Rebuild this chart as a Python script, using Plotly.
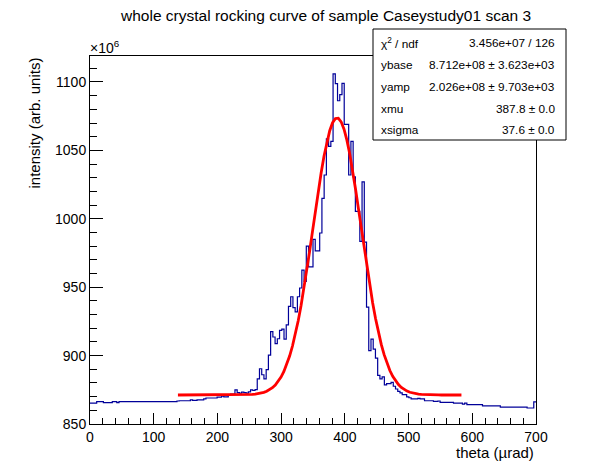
import numpy as np
import plotly.graph_objects as go

TITLE = "whole crystal rocking curve of sample Caseystudy01 scan 3"
X_TITLE = "theta (µrad)"
Y_TITLE = "intensity (arb. units)"

# histogram: 200 equal bins from 0 to 700 urad, contents in units of 1e6
bin_lo = 0.0
bin_hi = 700.0
counts = [
    865.3, 865.3, 865.3, 866.3, 866.3, 866.3, 865.6, 865.6, 865.6, 865.6,
    866.3, 866.3, 865.6, 866.3, 866.3, 866.3, 866.3, 866.3, 866.3, 866.3,
    866.3, 866.3, 866.3, 866.3, 866.3, 866.3, 866.3, 866.3, 866.3, 866.3,
    866.3, 866.3, 866.3, 866.3, 866.3, 866.3, 866.3, 866.3, 866.3, 866.8,
    867.0, 867.0, 867.0, 867.0, 867.0, 867.7, 867.2, 867.2, 867.7, 867.7,
    867.7, 868.3, 869.0, 869.0, 869.0, 869.0, 869.0, 869.7, 869.7, 870.4,
    869.8, 869.8, 871.0, 871.8, 871.8, 875.0, 873.0, 872.5, 873.3, 873.0,
    872.6, 873.5, 875.0, 874.5, 875.2, 883.0, 890.4, 886.0, 883.0, 889.7,
    900.4, 917.5, 913.6, 908.7, 912.3, 918.4, 919.4, 912.1, 922.4, 936.0,
    943.0, 935.0, 932.0, 943.0, 949.4, 962.5, 954.3, 980.0, 964.8, 964.8,
    985.0, 976.5, 976.5, 989.6, 1015.0, 1032.0, 1058.5, 1053.0, 1056.6, 1106.0,
    1098.8, 1086.3, 1090.7, 1099.0, 1069.0, 1069.0, 1032.0, 1056.6, 1030.6, 1005.4,
    1005.4, 983.5, 1027.0, 983.0, 935.5, 903.7, 912.1, 904.8, 898.2, 885.5,
    883.0, 884.5, 878.6, 879.5, 879.5, 880.4, 877.6, 875.6, 873.9, 872.7,
    871.4, 871.4, 869.8, 869.2, 868.3, 868.3, 868.3, 868.7, 868.3, 868.3,
    867.0, 867.0, 867.0, 867.0, 866.6, 866.6, 866.8, 865.8, 865.8, 865.8,
    865.8, 865.8, 865.8, 865.3, 865.3, 865.3, 865.3, 864.6, 865.3, 864.1,
    864.1, 864.1, 864.1, 864.1, 864.1, 864.1, 863.2, 863.2, 863.2, 863.2,
    863.2, 863.2, 863.2, 863.2, 862.4, 862.4, 862.4, 862.4, 862.4, 862.4,
    862.4, 862.4, 862.4, 862.4, 862.4, 862.4, 861.7, 861.7, 861.7, 866.1,
]

# fit result: ybase + yamp * gaus(xmu, xsigma)
fit_range = [138.0, 583.0]
ybase = 8.712e8
yamp = 2.026e8
xmu = 387.8
xsigma = 37.6

stat_labels = ["χ<sup>2</sup> / ndf", "ybase", "yamp", "xmu", "xsigma"]
stat_values = ["3.456e+07 / 126", "8.712e+08 ± 3.623e+03",
               "2.026e+08 ± 9.703e+03", "387.8 ± 0.0", "37.6 ± 0.0"]

# the page body adds an 8px margin, so lay out in window pixels and shift
OFF = 8
WIN_W, WIN_H = 596, 472
FRAME = dict(left=90, right=536, top=56, bottom=424)
W, H = WIN_W - OFF, WIN_H - OFF
ML = FRAME["left"] - OFF
MT = FRAME["top"] - OFF
MR = W - (FRAME["right"] - OFF)
MB = H - (FRAME["bottom"] - OFF)
PW = FRAME["right"] - FRAME["left"]
PH = FRAME["bottom"] - FRAME["top"]
FONT = "Liberation Sans, Arial, Helvetica, sans-serif"


def px(x):
    # window x pixel -> paper fraction
    return (x - FRAME["left"]) / PW


def py(y):
    # window y pixel -> paper fraction
    return (FRAME["bottom"] - y) / PH


edges = np.linspace(bin_lo, bin_hi, len(counts) + 1)
hist_y = list(counts) + [counts[-1]]

xf = np.linspace(fit_range[0], fit_range[1], 100)
yf = (ybase + yamp * np.exp(-0.5 * ((xf - xmu) / xsigma) ** 2)) / 1e6

fig = go.Figure()
fig.add_trace(go.Scatter(x=edges, y=hist_y, mode="lines",
                         line=dict(color="#000099", width=1.2, shape="hv"),
                         hoverinfo="skip"))
fig.add_trace(go.Scatter(x=xf, y=yf, mode="lines",
                         line=dict(color="#ff0000", width=2.8),
                         hoverinfo="skip"))

axis_common = dict(showline=True, linecolor="black", linewidth=1, mirror=True,
                   ticks="inside", tickcolor="black", tickwidth=1,
                   showgrid=False, zeroline=False,
                   tickfont=dict(family=FONT, size=14, color="black"))

fig.update_xaxes(range=[0, 700], tick0=0, dtick=100, ticklen=11,
                 minor=dict(ticks="inside", ticklen=6, dtick=20, tickcolor="black"),
                 **axis_common)
fig.update_yaxes(range=[850, 1119], tick0=850, dtick=50, ticklen=13,
                 minor=dict(ticks="inside", ticklen=6.5, dtick=10, tickcolor="black"),
                 **axis_common)

# stats box
fig.add_shape(type="rect", xref="paper", yref="paper",
              x0=px(373), x1=px(566), y0=py(140), y1=py(29),
              line=dict(color="black", width=1), fillcolor="white", layer="above")

annotations = []
row_y = [43, 65, 87, 109, 130]
for lab, val, ry in zip(stat_labels, stat_values, row_y):
    annotations.append(dict(x=px(379), y=py(ry), text=lab, xanchor="left",
                            yanchor="middle", font=dict(size=11.8)))
    annotations.append(dict(x=px(557), y=py(ry), text=val, xanchor="right",
                            yanchor="middle", font=dict(size=11.8)))

annotations += [
    dict(x=px(325), y=py(16), text=TITLE, xanchor="center", yanchor="middle",
         font=dict(size=15.5)),
    dict(x=px(88), y=py(47), text="×10<sup>6</sup>", xanchor="left",
         yanchor="middle", font=dict(size=14)),
    dict(x=px(34), y=1.0, text=Y_TITLE, textangle=-90, xanchor="center",
         yanchor="top", font=dict(size=15)),
    dict(x=1.0, y=py(452), text=X_TITLE, xanchor="right", yanchor="middle",
         font=dict(size=15)),
]
for a in annotations:
    a.update(xref="paper", yref="paper", showarrow=False)
    a["font"].update(family=FONT, color="black")

fig.update_layout(width=W, height=H, margin=dict(l=ML, r=MR, t=MT, b=MB),
                  paper_bgcolor="white", plot_bgcolor="white",
                  showlegend=False, annotations=annotations)

fig.write_html("out.html")
